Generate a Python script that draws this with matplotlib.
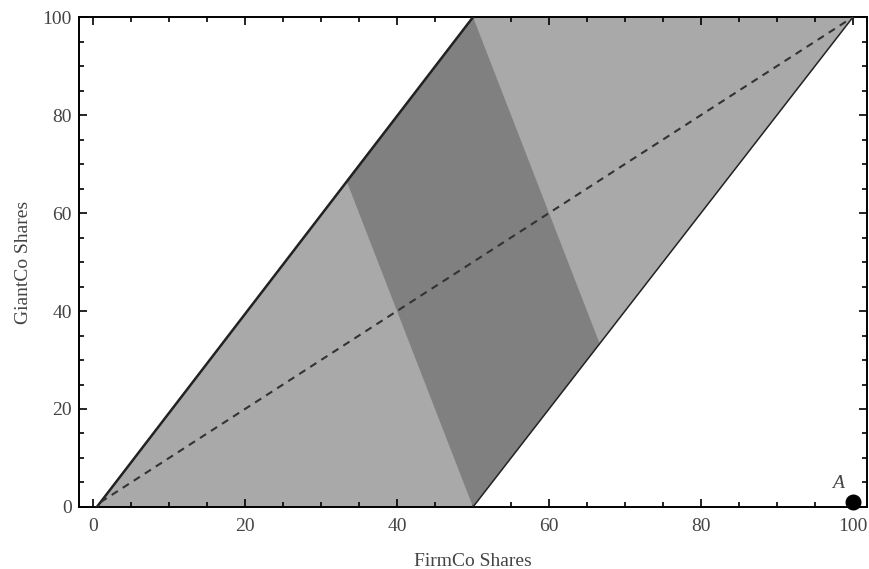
import matplotlib
matplotlib.use("Agg")
import matplotlib.pyplot as plt
from matplotlib.patches import Polygon
from matplotlib.ticker import MultipleLocator

plt.rcParams['font.family'] = ['Liberation Serif', 'DejaVu Serif']

# Data
outer_x = [0.5, 50, 100, 50]
outer_y = [0, 100, 100, 0]
inner_x = [33.33, 50, 66.67, 50]
inner_y = [66.67, 100, 33.33, 0]
left_edge_x = [0.5, 50]
left_edge_y = [0, 100]
right_edge_x = [50, 100]
right_edge_y = [0, 100]
diag_x = [1, 100]
diag_y = [1, 100]
point_A = (100, 1)

fig = plt.figure(figsize=(8.7, 5.69), dpi=100)
ax = fig.add_axes([0.0908, 0.109, 0.9058, 0.861])

ax.add_patch(Polygon(list(zip(outer_x, outer_y)), closed=True, facecolor='#a9a9a9', edgecolor='none', zorder=1))
ax.add_patch(Polygon(list(zip(inner_x, inner_y)), closed=True, facecolor='#808080', edgecolor='none', zorder=2))
ax.plot(left_edge_x, left_edge_y, color='#222222', lw=1.8, zorder=3)
ax.plot(right_edge_x, right_edge_y, color='#222222', lw=1.1, zorder=3)
ax.plot(diag_x, diag_y, color='#333333', lw=1.5, dashes=(3.5, 2.8), zorder=3)
ax.plot([point_A[0]], [point_A[1]], 'o', color='black', ms=10.5, zorder=4, clip_on=False)
ax.text(98, 4.7, 'A', fontsize=14, style='italic', ha='center', va='center', color='#444444')

ax.set_xlim(-1.85, 101.85)
ax.set_ylim(0, 100)
ax.xaxis.set_major_locator(MultipleLocator(20))
ax.xaxis.set_minor_locator(MultipleLocator(5))
ax.yaxis.set_major_locator(MultipleLocator(20))
ax.yaxis.set_minor_locator(MultipleLocator(5))
ax.tick_params(which='both', direction='in', top=True, right=True, width=1.2, colors='black', labelcolor='#444444', labelsize=14)
ax.tick_params(which='major', length=6)
ax.tick_params(which='minor', length=3.5)
ax.tick_params(axis='x', which='major', pad=8)
ax.tick_params(axis='y', which='major', pad=5)
for s in ax.spines.values():
    s.set_linewidth(1.4)

ax.set_xlabel('FirmCo Shares', fontsize=14, color='#444444', labelpad=13)
ax.set_ylabel('GiantCo Shares', fontsize=14, color='#444444', labelpad=8)

fig.savefig('out.png', dpi=100)
